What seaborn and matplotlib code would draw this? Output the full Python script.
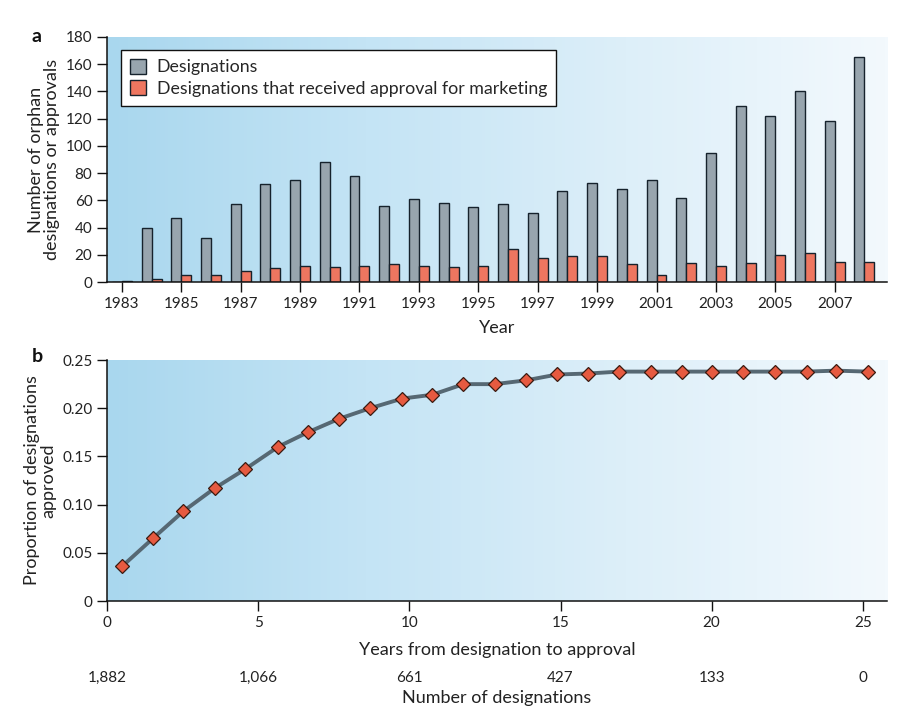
import numpy as np
import pandas as pd
import matplotlib
matplotlib.use("Agg")
import matplotlib.pyplot as plt
from matplotlib.colors import LinearSegmentedColormap
from matplotlib.patches import Patch
import seaborn as sns

# ---------------- data ----------------
years = list(range(1983, 2009))
designations = [0, 40, 47, 32, 57, 72, 75, 88, 78, 56, 61, 58, 55, 57, 51, 67,
                73, 68, 75, 62, 95, 129, 122, 140, 118, 165]
approvals = [1, 2, 5, 5, 8, 10, 12, 11, 12, 13, 12, 11, 12, 24, 18, 19,
             19, 13, 5, 14, 12, 14, 20, 21, 15, 15]
series_names = ["Designations", "Designations that received approval for marketing"]

years_to_approval = [0.50, 1.52, 2.52, 3.56, 4.58, 5.66, 6.64, 7.67, 8.70, 9.76,
                     10.76, 11.79, 12.83, 13.87, 14.89, 15.91, 16.93, 17.98, 19.03,
                     20.02, 21.05, 22.09, 23.14, 24.11, 25.17]
proportion_approved = [0.036, 0.065, 0.093, 0.117, 0.137, 0.160, 0.175, 0.189, 0.200,
                       0.210, 0.214, 0.225, 0.225, 0.229, 0.235, 0.236, 0.238, 0.238,
                       0.238, 0.238, 0.238, 0.238, 0.238, 0.239, 0.238]
b_ticks = [0, 5, 10, 15, 20, 25]
n_designations = ["1,882", "1,066", "661", "427", "133", "0"]

# ---------------- style ----------------
sns.set_theme(style="white")
plt.rcParams["font.family"] = ["Lato", "DejaVu Sans"]
plt.rcParams["axes.linewidth"] = 1.1
TXT = "#222222"
LBL = 13

GRAY = "#98a5ae"
ORANGE = "#ee7660"
EDGE = "#16222c"
bg_cmap = LinearSegmentedColormap.from_list(
    "bg", ["#a9d7ee", "#c4e4f5", "#ddeff9", "#f3f9fd"])

fig = plt.figure(figsize=(9.03, 7.10), dpi=100)
ax1 = fig.add_axes([0.1185, 0.6028, 0.8638, 0.3451])
ax2 = fig.add_axes([0.1185, 0.1535, 0.8638, 0.3394])


def gradient(ax):
    g = np.linspace(0, 1, 256).reshape(1, -1)
    ax.imshow(g, extent=[0, 1, 0, 1], transform=ax.transAxes, cmap=bg_cmap,
              aspect="auto", zorder=0)


# ---------------- panel a ----------------
df = pd.DataFrame({
    "Year": [str(y) for y in years] * 2,
    "Count": designations + approvals,
    "Series": [series_names[0]] * len(years) + [series_names[1]] * len(years),
})
gradient(ax1)
sns.barplot(data=df, x="Year", y="Count", hue="Series", hue_order=series_names,
            palette=[GRAY, ORANGE], width=0.67, edgecolor=EDGE, linewidth=1.0,
            saturation=1, ax=ax1, zorder=2, legend=False)
ax1.set_xlim(-0.5, 25.76)
ax1.set_ylim(0, 180)
ax1.set_yticks(range(0, 181, 20))
ax1.set_xticks(range(0, 26, 2))
ax1.set_xticklabels([str(y) for y in years[::2]])
ax1.set_xlabel("Year", fontsize=LBL, color=TXT, labelpad=7)
ax1.set_ylabel("Number of orphan\ndesignations or approvals", fontsize=LBL,
               color=TXT, labelpad=4, linespacing=1.05)
handles = [Patch(facecolor=GRAY, edgecolor=EDGE, linewidth=1.0),
           Patch(facecolor=ORANGE, edgecolor=EDGE, linewidth=1.0)]
leg = ax1.legend(handles, series_names, loc="upper left",
                 bbox_to_anchor=(0.018, 0.947), borderaxespad=0,
                 fontsize=12.8, frameon=True,
                 fancybox=False, edgecolor="#111111", framealpha=1,
                 handlelength=0.9, handleheight=0.9, handletextpad=0.6,
                 borderpad=0.5, labelspacing=0.28)
leg.get_frame().set_linewidth(1.0)

# ---------------- panel b ----------------
gradient(ax2)
dfb = pd.DataFrame({"years": years_to_approval, "prop": proportion_approved})
sns.lineplot(data=dfb, x="years", y="prop", ax=ax2, color="#566873", linewidth=2.8,
             marker="D", markersize=7, markerfacecolor="#e65a40",
             markeredgecolor="#3a1a10", markeredgewidth=0.9, zorder=3)
ax2.set_xlim(0, 25.8)
ax2.set_ylim(0, 0.25)
ax2.set_yticks([0, 0.05, 0.10, 0.15, 0.20, 0.25])
ax2.set_yticklabels(["0", "0.05", "0.10", "0.15", "0.20", "0.25"])
ax2.set_xticks(b_ticks)
ax2.set_xticklabels([str(t) for t in b_ticks])
ax2.set_xlabel("Years from designation to approval", fontsize=LBL, color=TXT,
               labelpad=9)
ax2.set_ylabel("Proportion of designations\napproved", fontsize=LBL, color=TXT,
               labelpad=4, linespacing=1.05)

sec = ax2.secondary_xaxis(-0.292)
sec.set_xticks(b_ticks)
sec.set_xticklabels(n_designations)
sec.tick_params(length=0, labelsize=11, colors=TXT, pad=0)
sec.spines["bottom"].set_visible(False)
sec.set_xlabel("Number of designations", fontsize=LBL, color=TXT, labelpad=3)

for ax in (ax1, ax2):
    for s in ("top", "right"):
        ax.spines[s].set_visible(False)
    for s in ("left", "bottom"):
        ax.spines[s].set_color("#111111")
    ax.tick_params(axis="both", direction="out", length=7, width=1.0,
                   colors="#111111", labelcolor=TXT, labelsize=11,
                   bottom=True, left=True)
    ax.set_axisbelow(False)

fig.text(32 / 903, 1 - 37 / 710, "a", fontsize=14, fontweight="bold",
         ha="left", va="center", color="#111111")
fig.text(32 / 903, 1 - 357 / 710, "b", fontsize=14, fontweight="bold",
         ha="left", va="center", color="#111111")

fig.savefig("out.png", dpi=100, facecolor="white")
